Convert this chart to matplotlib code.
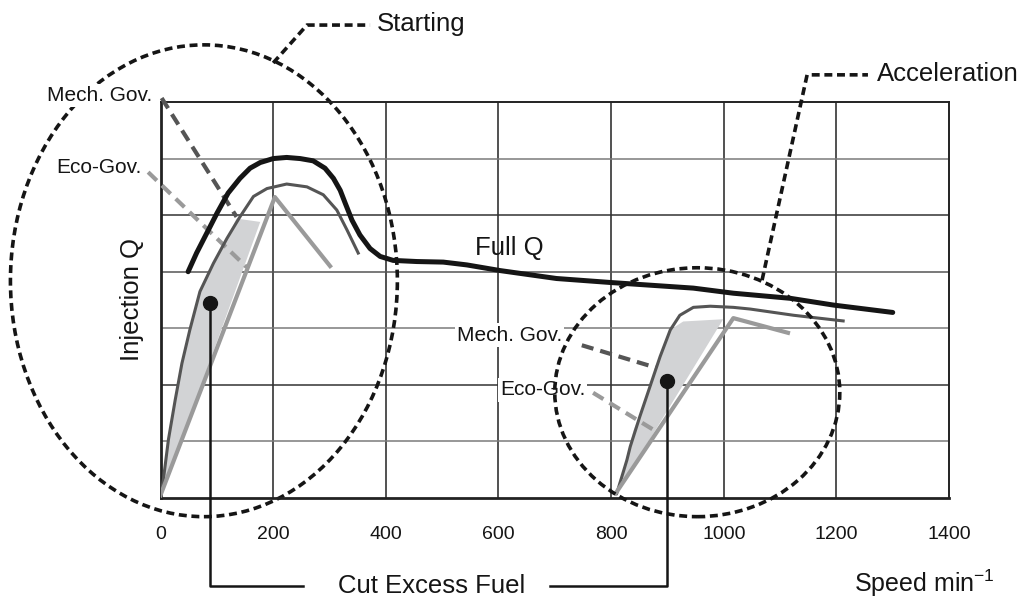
import numpy as np
import matplotlib
matplotlib.use("Agg")
import matplotlib.pyplot as plt
import matplotlib.patches as patches

plt.rcParams['font.family'] = ['Liberation Sans', 'DejaVu Sans']

# speed ticks
x_ticks = [0, 200, 400, 600, 800, 1000, 1200, 1400]
y_grid = [1, 2, 3, 4, 5, 6]

# full injection quantity
full_q_x = [49, 64, 82, 100, 120, 141, 159, 177, 200, 224, 248, 271, 292, 307, 319, 328, 340,
            354, 372, 390, 413, 455, 502, 544, 603, 703, 798, 946, 1017, 1118, 1195, 1300]
full_q_y = [4.0, 4.33, 4.68, 5.03, 5.39, 5.65, 5.83, 5.93, 6.0, 6.02, 6.0, 5.96, 5.83, 5.65, 5.44, 5.21, 4.91,
            4.65, 4.41, 4.27, 4.2, 4.18, 4.17, 4.12, 4.02, 3.88, 3.81, 3.71, 3.62, 3.53, 3.41, 3.28]

# starting: mech. governor curve (dark) and eco-governor line (light)
start_mech_x = [0, 5, 14, 26, 38, 52, 70, 94, 118, 141, 165, 189, 224, 260, 289, 313, 331, 351]
start_mech_y = [0, 0.32, 1.03, 1.73, 2.38, 2.97, 3.65, 4.15, 4.59, 4.97, 5.33, 5.47, 5.55, 5.5, 5.36, 5.09, 4.74, 4.33]
start_eco_x = [0, 203, 301]
start_eco_y = [0.05, 5.32, 4.1]
start_cut_x = [0, 5, 14, 26, 38, 52, 70, 94, 118, 135, 177, 0]
start_cut_y = [0, 0.32, 1.03, 1.73, 2.38, 2.97, 3.65, 4.15, 4.59, 4.94, 4.88, 0]

# acceleration
acc_mech_x = [810, 828, 834, 851, 869, 887, 905, 922, 946, 976, 1017, 1047, 1124, 1212]
acc_mech_y = [0.08, 0.67, 0.91, 1.44, 1.97, 2.5, 2.97, 3.23, 3.37, 3.39, 3.37, 3.34, 3.23, 3.13]
acc_eco_x = [808, 1017, 1114]
acc_eco_y = [0.08, 3.18, 2.92]
acc_cut_x = [810, 826, 840, 856, 872, 887, 905, 914, 928, 999, 810]
acc_cut_y = [0.08, 0.67, 1.2, 1.6, 2.0, 2.5, 2.97, 3.03, 3.12, 3.16, 0.08]

# governor dashed pointers
gov_dashes = {
    "start_mech": ([2, 135], [7.07, 4.97]),
    "start_eco": ([-22, 153], [5.76, 4.08]),
    "acc_mech": ([748, 881], [2.7, 2.3]),
    "acc_eco": ([768, 881], [1.86, 1.17]),
}

DARK = "#555555"
LIGHT = "#9a9a9a"
SHADE = "#d2d3d5"
INK = "#151515"


def dashed_ellipse(ax, cx, cy, w, h, z):
    e = patches.Ellipse((cx, cy), w, h, fill=False, edgecolor=INK,
                        linewidth=2.6, linestyle=(0, (2.2, 1.3)),
                        clip_on=False, zorder=z)
    ax.add_patch(e)


def leader(ax, xs, ys, text, tx, ty):
    ax.plot(xs, ys, color=INK, lw=2.6, dashes=(2.2, 1.3), clip_on=False, zorder=6)
    ax.text(tx, ty, text, fontsize=18.5, ha="left", va="center", color=INK)


def callout(ax, dot, corner_y, end_x):
    ax.plot([dot[0], dot[0], end_x], [dot[1], corner_y, corner_y],
            color=INK, lw=1.8, clip_on=False, zorder=7)
    ax.plot(dot[0], dot[1], "o", color=INK, ms=10, zorder=8, clip_on=False)


def gov_label(ax, x, y, text):
    ax.text(x, y, text, fontsize=15, ha="right", va="center", color=INK,
            zorder=3, bbox=dict(facecolor="white", edgecolor="none", pad=1.5))


def main():
    fig = plt.figure(figsize=(10.27, 6.0), dpi=100)
    ax = fig.add_axes([0.1563, 0.17, 0.7678, 0.66])
    ax.set_xlim(0, 1400)
    ax.set_ylim(0, 7)

    for x in x_ticks[1:-1]:
        ax.axvline(x, color="#222222", lw=1.1, zorder=1)
    grid_cols = {1: "#7a7a7a", 2: "#333333", 3: "#7a7a7a", 4: "#555555", 5: "#333333", 6: "#7a7a7a"}
    for y in y_grid:
        ax.axhline(y, color=grid_cols[y], lw=1.1, zorder=1)

    for side, lw in [("left", 2.0), ("bottom", 2.0), ("top", 1.4), ("right", 1.4)]:
        ax.spines[side].set_linewidth(lw)
        ax.spines[side].set_color("#222222")

    ax.set_xticks(x_ticks)
    ax.set_yticks([])
    ax.tick_params(axis="x", length=0, pad=20, labelsize=14, labelcolor=INK)

    # shaded cut-off areas
    ax.fill(start_cut_x, start_cut_y, color=SHADE, lw=0, zorder=2)
    ax.fill(acc_cut_x, acc_cut_y, color=SHADE, lw=0, zorder=2)

    # governor dashed pointers
    for key, (xs, ys) in gov_dashes.items():
        col = DARK if "mech" in key else LIGHT
        ax.plot(xs, ys, color=col, lw=3, dashes=(2.9, 1.7), clip_on=False, zorder=3)

    ax.plot(start_mech_x, start_mech_y, color=DARK, lw=2.2, zorder=4)
    ax.plot(start_eco_x, start_eco_y, color=LIGHT, lw=3, zorder=4)
    ax.plot(acc_mech_x, acc_mech_y, color=DARK, lw=2.2, zorder=4)
    ax.plot(acc_eco_x, acc_eco_y, color=LIGHT, lw=3, zorder=4)
    ax.plot(full_q_x, full_q_y, color=INK, lw=3.6, solid_capstyle="round",
            solid_joinstyle="round", zorder=5)

    gov_label(ax, -15, 7.12, "Mech. Gov.")
    gov_label(ax, -33, 5.85, "Eco-Gov.")
    gov_label(ax, 713, 2.88, "Mech. Gov.")
    gov_label(ax, 754, 1.91, "Eco-Gov.")

    dashed_ellipse(ax, 77, 3.84, 687, 8.34, z=2.5)
    dashed_ellipse(ax, 953, 1.87, 506, 4.40, z=6)

    leader(ax, [200, 260, 372], [7.69, 8.36, 8.36], "Starting", 384, 8.37)
    leader(ax, [1068, 1148, 1256], [3.85, 7.48, 7.48], "Acceleration", 1272, 7.5)

    callout(ax, (88, 3.45), -1.56, 253)
    callout(ax, (899, 2.07), -1.56, 692)
    ax.text(482, -1.56, "Cut Excess Fuel", fontsize=18.5, ha="center", va="center", color=INK)

    ax.text(-50, 3.5, "Injection Q", fontsize=18.5,
            rotation=90, ha="center", va="center", color=INK)
    ax.text(558, 4.42, "Full Q", fontsize=18.5, ha="left", va="center", color=INK)
    ax.text(1232, -1.5, "Speed min$\\mathregular{^{-1}}$", fontsize=18,
            ha="left", va="center", color=INK)

    fig.savefig("out.png", dpi=100)


if __name__ == "__main__":
    main()
